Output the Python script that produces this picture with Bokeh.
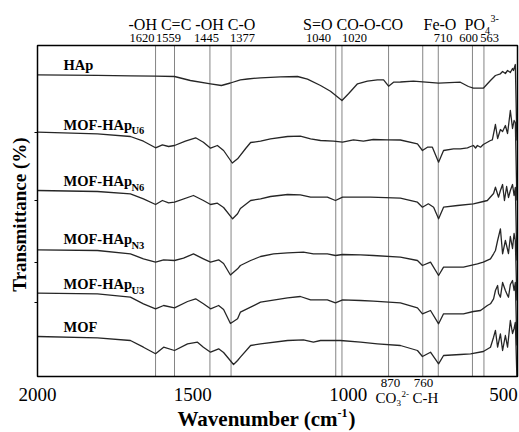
from bokeh.plotting import figure
from bokeh.models import Range1d, Label
from bokeh.core.properties import value
from bokeh.embed import file_html
from bokeh.resources import INLINE

# ---- data: wavenumber (cm-1) and transmittance (a.u., stacked offsets) ----
hap_wn = [2000, 1807, 1701, 1620, 1559, 1508, 1443, 1408, 1379, 1347, 1324, 1282, 1218, 1163, 1131, 1089,
          1057, 1020, 999, 970, 938, 906, 886, 870, 854, 832, 790, 709, 639, 613, 597, 565, 542, 526,
          510, 503, 494, 487, 478, 471, 468, 462, 457]
hap_t = [301.7, 301.2, 300.7, 300.3, 300, 296, 292.7, 291, 293.5, 296.7, 297.5, 298.7, 299.7, 300, 297.3, 291,
         285.3, 276, 282.7, 292.7, 295.3, 296.7, 296.7, 290.3, 294.3, 294.5, 295.3, 293.3, 294.3, 290, 288.3, 288.3, 296, 301,
         302.7, 305, 303, 306, 304, 308, 306, 312, 236]

u6_wn = [2000, 1807, 1701, 1659, 1620, 1598, 1578, 1559, 1524, 1491, 1466, 1443, 1421, 1401, 1373, 1356, 1330,
         1314, 1282, 1250, 1195, 1154, 1121, 1089, 1047, 1018, 983, 951, 919, 874, 832, 777, 761, 745, 729,
         709, 693, 661, 639, 616, 606, 597, 590, 584, 574, 565, 552, 542, 536, 526, 519, 510, 503, 494, 487,
         478, 471, 466, 462, 457]
u6_t = [244.3, 242.7, 240, 235.3, 228.7, 231.7, 230, 231, 235.3, 238.7, 234.3, 228.3, 231, 226, 213.5, 217.7, 228,
        234, 235.3, 237.7, 240, 240.3, 237.7, 236, 235.3, 234.3, 236.7, 235.3, 237, 236.7, 236.5, 232.7, 226, 229.3, 229.3,
        214.3, 226, 227.7, 227.7, 228.7, 230, 231, 228.5, 231, 229.3, 232, 234.3, 236, 236.7, 252, 238, 247, 245, 251, 243,
        266, 248, 256, 254, 176]

n6_wn = [2000, 1807, 1701, 1659, 1620, 1598, 1578, 1559, 1498, 1466, 1443, 1421, 1401, 1372, 1356, 1347, 1314,
         1282, 1250, 1195, 1154, 1121, 1067, 1041, 1018, 983, 928, 832, 777, 761, 742, 725, 709, 693, 648,
         597, 565, 552, 532, 526, 516, 510, 503, 497, 490, 484, 478, 471, 466, 462, 457]
n6_t = [186, 185, 182.7, 177.7, 172, 176, 173.7, 174.3, 181, 176, 172, 173.3, 169, 157.7, 162.7, 168, 176,
        177.7, 180, 182, 181.7, 179.3, 179.3, 176, 179.3, 179.3, 179.3, 178.3, 174.3, 169.3, 172.7, 169.3, 157.7, 169.3, 171,
        172.7, 175, 176, 183, 189.3, 179.3, 186, 192, 176, 190, 179, 186, 192, 181, 189, 116]

n3_wn = [2000, 1807, 1701, 1659, 1620, 1594, 1559, 1530, 1498, 1466, 1443, 1417, 1401, 1379, 1356, 1347, 1314,
         1282, 1240, 1195, 1144, 1112, 1067, 1041, 1018, 960, 919, 832, 777, 761, 735, 709, 693, 629, 584,
         565, 542, 532, 526, 519, 510, 503, 494, 484, 478, 471, 466, 462, 457]
n3_t = [126.7, 126, 122.7, 117.7, 114.3, 116.7, 116, 118.3, 122.7, 117.7, 114.3, 116.7, 113, 101.5, 107.7, 111, 116,
        120, 122.7, 123.7, 124.3, 122.7, 122.7, 121, 122, 121.7, 121, 119.3, 116, 111, 114.3, 101, 109.3, 109.3, 112.7,
        114.3, 117.7, 122.7, 126, 136, 147.7, 122.7, 136, 123, 140, 128, 143, 136, 76]

u3_wn = [2000, 1807, 1701, 1659, 1620, 1594, 1559, 1517, 1491, 1466, 1443, 1417, 1401, 1379, 1356, 1347, 1282,
         1195, 1154, 1121, 1067, 1041, 1018, 960, 919, 832, 777, 761, 735, 709, 693, 629, 597, 574, 552,
         542, 532, 526, 519, 516, 510, 503, 494, 487, 484, 478, 471, 466, 462, 457]
u3_t = [83.3, 82.7, 79.3, 72.7, 67.7, 71, 68.7, 75, 77.7, 72.7, 67.7, 71, 67, 53, 57.7, 64.3, 74.3,
        78.7, 80, 76.7, 76.7, 73.7, 76.7, 76, 75.3, 73.7, 68.7, 62.7, 66, 52.7, 62.7, 62.7, 65, 66, 71,
        72.7, 77.7, 86, 91, 83, 79.3, 94, 86, 81, 79.3, 92, 96, 86, 94, 31]

mof_wn = [2000, 1807, 1701, 1659, 1620, 1594, 1559, 1517, 1485, 1466, 1443, 1417, 1401, 1369, 1356, 1347, 1314,
          1282, 1195, 1144, 1112, 1089, 1025, 960, 906, 832, 777, 761, 735, 709, 693, 639, 606, 565, 542,
          532, 526, 519, 510, 503, 494, 487, 478, 471, 466, 462, 457]
mof_t = [40, 38.7, 36, 29.3, 22.7, 29.3, 26, 32.7, 34.3, 29.3, 24.3, 27.7, 24, 12, 16, 19.3, 31,
         32.7, 36, 36.7, 34.3, 36, 36, 34.3, 32.7, 31, 26, 20, 24.3, 12.7, 21, 22, 22.7, 25, 29.3,
         39.3, 46, 29.3, 42.7, 26, 41, 29.3, 56, 43, 48, 54, 0]

band_wn = [1620, 1559, 1445, 1377, 1040, 1020, 870, 760, 710, 600, 563]
x_ticks = [2000, 1500, 1000, 500]
x_tick_labels = ["2000", "1500", "1000", "500"]
y_ticks = [244, 176, 114, 74]

# plotted window (wavenumber and transmittance limits of the boxed area)
WN_HI, WN_LO = 2000, 455
T_LO, T_HI = 0, 331

SERIF = "Liberation Serif"

# canvas geometry: the boxed plot area spans pixels x 37..517, y 45..376
W, H = 519, 432
BL, BR, BT, BB = 37, 517, 45, 376
sx = (WN_HI - WN_LO) / (BR - BL)
sy = (T_HI - T_LO) / (BB - BT)

p = figure(width=W, height=H, output_backend="svg", toolbar_location=None,
           x_axis_type=None, y_axis_type=None,
           x_range=Range1d(WN_HI + BL * sx, WN_LO - (W - BR) * sx),
           y_range=Range1d(T_LO - (H - BB) * sy, T_HI + BT * sy),
           min_border=0)
p.outline_line_color = None
p.background_fill_color = "white"
p.border_fill_color = "white"
p.grid.visible = False

# band reference lines
p.segment(x0=band_wn, y0=[T_LO] * len(band_wn), x1=band_wn, y1=[T_HI] * len(band_wn),
          line_color="#858585", line_width=1)

# spectra
for wn, t in [(hap_wn, hap_t), (u6_wn, u6_t), (n6_wn, n6_t), (n3_wn, n3_t), (u3_wn, u3_t), (mof_wn, mof_t)]:
    p.line(wn, t, line_color="#262626", line_width=1.3, line_join="round")

# plot box
p.quad(left=[WN_HI], right=[WN_LO], bottom=[T_LO], top=[T_HI], fill_color=None,
       line_color="black", line_width=1.5)

# small y ticks on the left edge
p.segment(x0=[WN_HI] * len(y_ticks), y0=y_ticks, x1=[WN_HI + 3 * sx] * len(y_ticks), y1=y_ticks,
          line_color="black", line_width=1)

# x tick labels
p.text(x=x_ticks, y=[T_LO - 18 * sy] * len(x_ticks), text=x_tick_labels,
       text_font=value(SERIF), text_font_size="19px", text_align="center",
       text_baseline="alphabetic", text_color="black")


def lab(x, ybase, text, size, bold=False, align="left", baseline="alphabetic", angle=0, shift=True):
    # x, ybase in canvas pixels from top-left; shift compensates the baseline placement
    px = float(size.replace("px", ""))
    yb = ybase - 0.4 * px if shift else ybase
    p.add_layout(Label(x=x, y=H - yb, x_units="screen", y_units="screen", text=text,
                       text_font=SERIF, text_font_size=size,
                       text_font_style="bold" if bold else "normal",
                       text_align=align, text_baseline=baseline, angle=angle,
                       text_color="black"))


# sample names
lab(63, 70, "HAp", "14.5px", True)
for sub, yb in [("U6", 130), ("N6", 186.7), ("N3", 244.3), ("U3", 289.3)]:
    lab(63, yb, "MOF-HAp", "14.5px", True)
    lab(131, yb + 4.5, sub, "10.5px", True)
lab(63, 332.7, "MOF", "14.5px", True)

# band assignments (top)
lab(128, 30, "-OH C=C -OH C-O", "16px")
lab(302.5, 30, "S=O CO-O-CO", "16px")
lab(423, 30, "Fe-O", "16px")
lab(464, 30, "PO", "16px")
lab(484.5, 33.5, "4", "10px")
lab(490, 22, "3-", "10px")
for cx, t in [(141.5, "1620"), (168, "1559"), (206, "1445"), (242, "1377"), (318, "1040"),
              (354, "1020"), (442.5, "710"), (468, "600"), (489, "563")]:
    lab(cx, 42.5, t, "12.5px", align="center")

# band assignments (bottom)
lab(390, 388, "870", "13px", align="center")
lab(423, 388, "760", "13px", align="center")
lab(375, 403, "CO", "15px")
lab(396, 406, "3", "9px")
lab(401, 397, "2-", "9px")
lab(412, 403, "C-H", "15px")

# axis titles
lab(177, 427, "Wavenumber (cm", "21px", True)
lab(337, 417, "-1", "12px", True)
lab(348, 427, ")", "21px", True)
lab(19, 214, "Transmittance (%)", "19px", True, align="center", baseline="middle", angle=1.5708, shift=False)

open("out.html", "w").write(file_html(p, INLINE))
